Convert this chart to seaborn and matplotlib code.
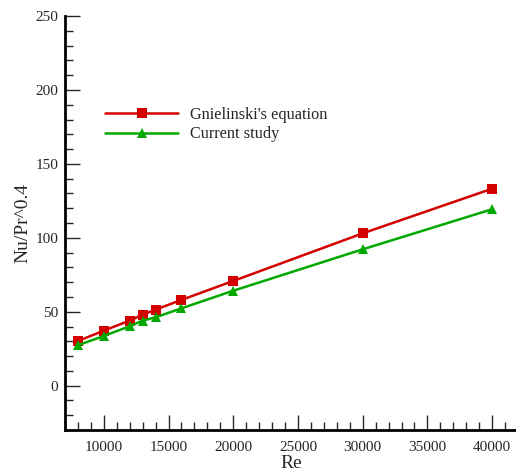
import numpy as np
import pandas as pd
import matplotlib
matplotlib.use("Agg")
import matplotlib.pyplot as plt
import seaborn as sns
from matplotlib.ticker import MultipleLocator

re_vals = [8000, 10000, 12000, 13000, 14000, 16000, 20000, 30000, 40000]
gnielinski = [30.2, 37.2, 44.0, 48.0, 51.4, 58.0, 70.8, 103.0, 133.2]
current = [27.3, 33.6, 40.2, 44.0, 46.2, 52.3, 64.2, 92.2, 119.3]
series_names = ["Gnielinski's equation", "Current study"]
x_ticks = [10000, 15000, 20000, 25000, 30000, 35000, 40000]
y_ticks = [0, 50, 100, 150, 200, 250]

df = pd.DataFrame({
    "Re": re_vals * 2,
    "val": gnielinski + current,
    "series": [series_names[0]] * len(re_vals) + [series_names[1]] * len(re_vals),
})

sns.set_style("ticks")
plt.rcParams["font.family"] = ["Liberation Serif", "DejaVu Serif"]
plt.rcParams["mathtext.default"] = "regular"

fig = plt.figure(figsize=(5.16, 4.72), dpi=100)
ax = fig.add_axes([65 / 516, 1 - 430 / 472, 453 / 516, 414 / 472])

palette = {series_names[0]: "#d40000", series_names[1]: "#00a800"}
markers = {series_names[0]: "s", series_names[1]: "^"}
sns.lineplot(data=df, x="Re", y="val", hue="series", style="series",
             palette=palette, markers=markers, dashes=False, ax=ax,
             linewidth=1.8, markersize=7.5, markeredgewidth=0)

ax.set_xlim(7000, 42000)
ax.set_ylim(-30, 250)
ax.set_xticks(x_ticks)
ax.set_yticks(y_ticks)
ax.xaxis.set_minor_locator(MultipleLocator(1000))
ax.yaxis.set_minor_locator(MultipleLocator(10))
ax.tick_params(which="major", direction="in", length=11, width=1, labelsize=11, pad=8)
ax.tick_params(which="minor", direction="in", length=6, width=1)
ax.tick_params(axis="y", which="major", pad=5)
for s in ["top", "right"]:
    ax.spines[s].set_visible(False)
for s in ["left", "bottom"]:
    ax.spines[s].set_linewidth(2)
    ax.spines[s].set_color("black")

ax.set_xlabel("Re", fontsize=14, labelpad=1)
ax.set_ylabel("Nu/Pr^0.4", fontsize=14, labelpad=3)

h, l = ax.get_legend_handles_labels()
ax.legend(h, l, loc="upper left", bbox_to_anchor=(40 / 453, 1 - 91 / 414),
          frameon=False, fontsize=11.7, handlelength=4.5, borderpad=0,
          borderaxespad=0, labelspacing=0.2, handletextpad=0.7, numpoints=1)

fig.savefig("out.png", dpi=100)
